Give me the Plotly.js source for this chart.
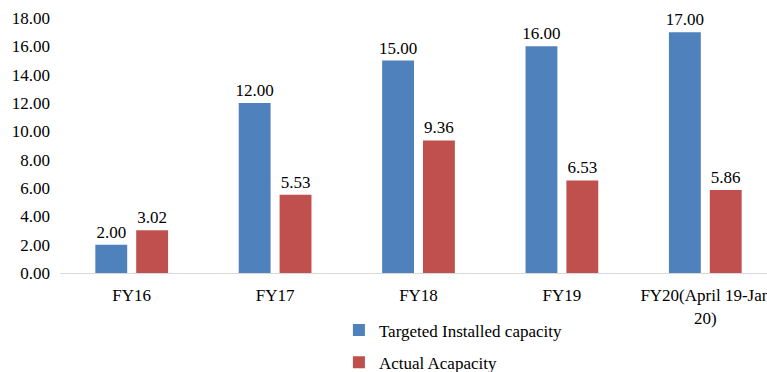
<!DOCTYPE html>
<html>
<head>
<meta charset="utf-8">
<script src="https://cdn.plot.ly/plotly-3.0.1.min.js"></script>
<style>
  html, body { margin: 0; padding: 0; overflow: hidden; background: #fff; }
  #chart { width: 777px; height: 372px; }
</style>
</head>
<body>
<div id="chart"></div>
<script>
// Solar capacity: targeted vs. actual installation per fiscal year
const categories = ['FY16', 'FY17', 'FY18', 'FY19', 'FY20(April 19-Jan<br>20)'];
const targetedCapacity = [2.00, 12.00, 15.00, 16.00, 17.00];
const actualCapacity = [3.02, 5.53, 9.36, 6.53, 5.86];
const yTickValues = [0, 2, 4, 6, 8, 10, 12, 14, 16, 18];

const serif = 'Liberation Serif';
const textSize = 17;

const traces = [
  {
    type: 'bar',
    name: 'Targeted Installed capacity',
    x: categories,
    y: targetedCapacity,
    marker: { color: '#4F81BD' },
    texttemplate: '%{y:.2f}',
    textposition: 'outside',
    constraintext: 'none',
    cliponaxis: false,
    textfont: { family: serif, size: textSize, color: '#000' },
    legendgroup: 'a'
  },
  {
    type: 'bar',
    name: 'Actual Acapacity',
    x: categories,
    y: actualCapacity,
    marker: { color: '#C0504D' },
    texttemplate: '%{y:.2f}',
    textposition: 'outside',
    constraintext: 'none',
    cliponaxis: false,
    textfont: { family: serif, size: textSize, color: '#000' },
    legendgroup: 'b'
  }
];

const layout = {
  width: 777,
  height: 372,
  margin: { l: 60, r: 0, t: 18, b: 99, autoexpand: false },
  paper_bgcolor: '#fff',
  plot_bgcolor: '#fff',
  font: { family: serif, size: textSize, color: '#000' },
  barmode: 'group',
  bargap: 0.43,
  bargroupgap: 0.22,
  showlegend: true,
  legend: {
    orientation: 'v',
    x: 0.389,
    xanchor: 'left',
    y: -0.155,
    yanchor: 'top',
    tracegroupgap: 7,
    itemwidth: 30,
    font: { family: serif, size: textSize, color: '#000' }
  },
  xaxis: {
    type: 'category',
    range: [-0.5, 4.5],
    showgrid: false,
    showline: true,
    linecolor: '#D9D9D9',
    linewidth: 1,
    ticks: '',
    ticklabelstandoff: 7,
    zeroline: false,
    automargin: false,
    tickfont: { family: serif, size: textSize, color: '#000' }
  },
  yaxis: {
    range: [0, 18],
    tickvals: yTickValues,
    tickformat: '.2f',
    showgrid: false,
    showline: false,
    zeroline: false,
    ticks: '',
    ticklabelstandoff: 9,
    automargin: false,
    tickfont: { family: serif, size: textSize, color: '#000' }
  }
};

Plotly.newPlot('chart', traces, layout, { displayModeBar: false, staticPlot: true });
</script>
</body>
</html>
